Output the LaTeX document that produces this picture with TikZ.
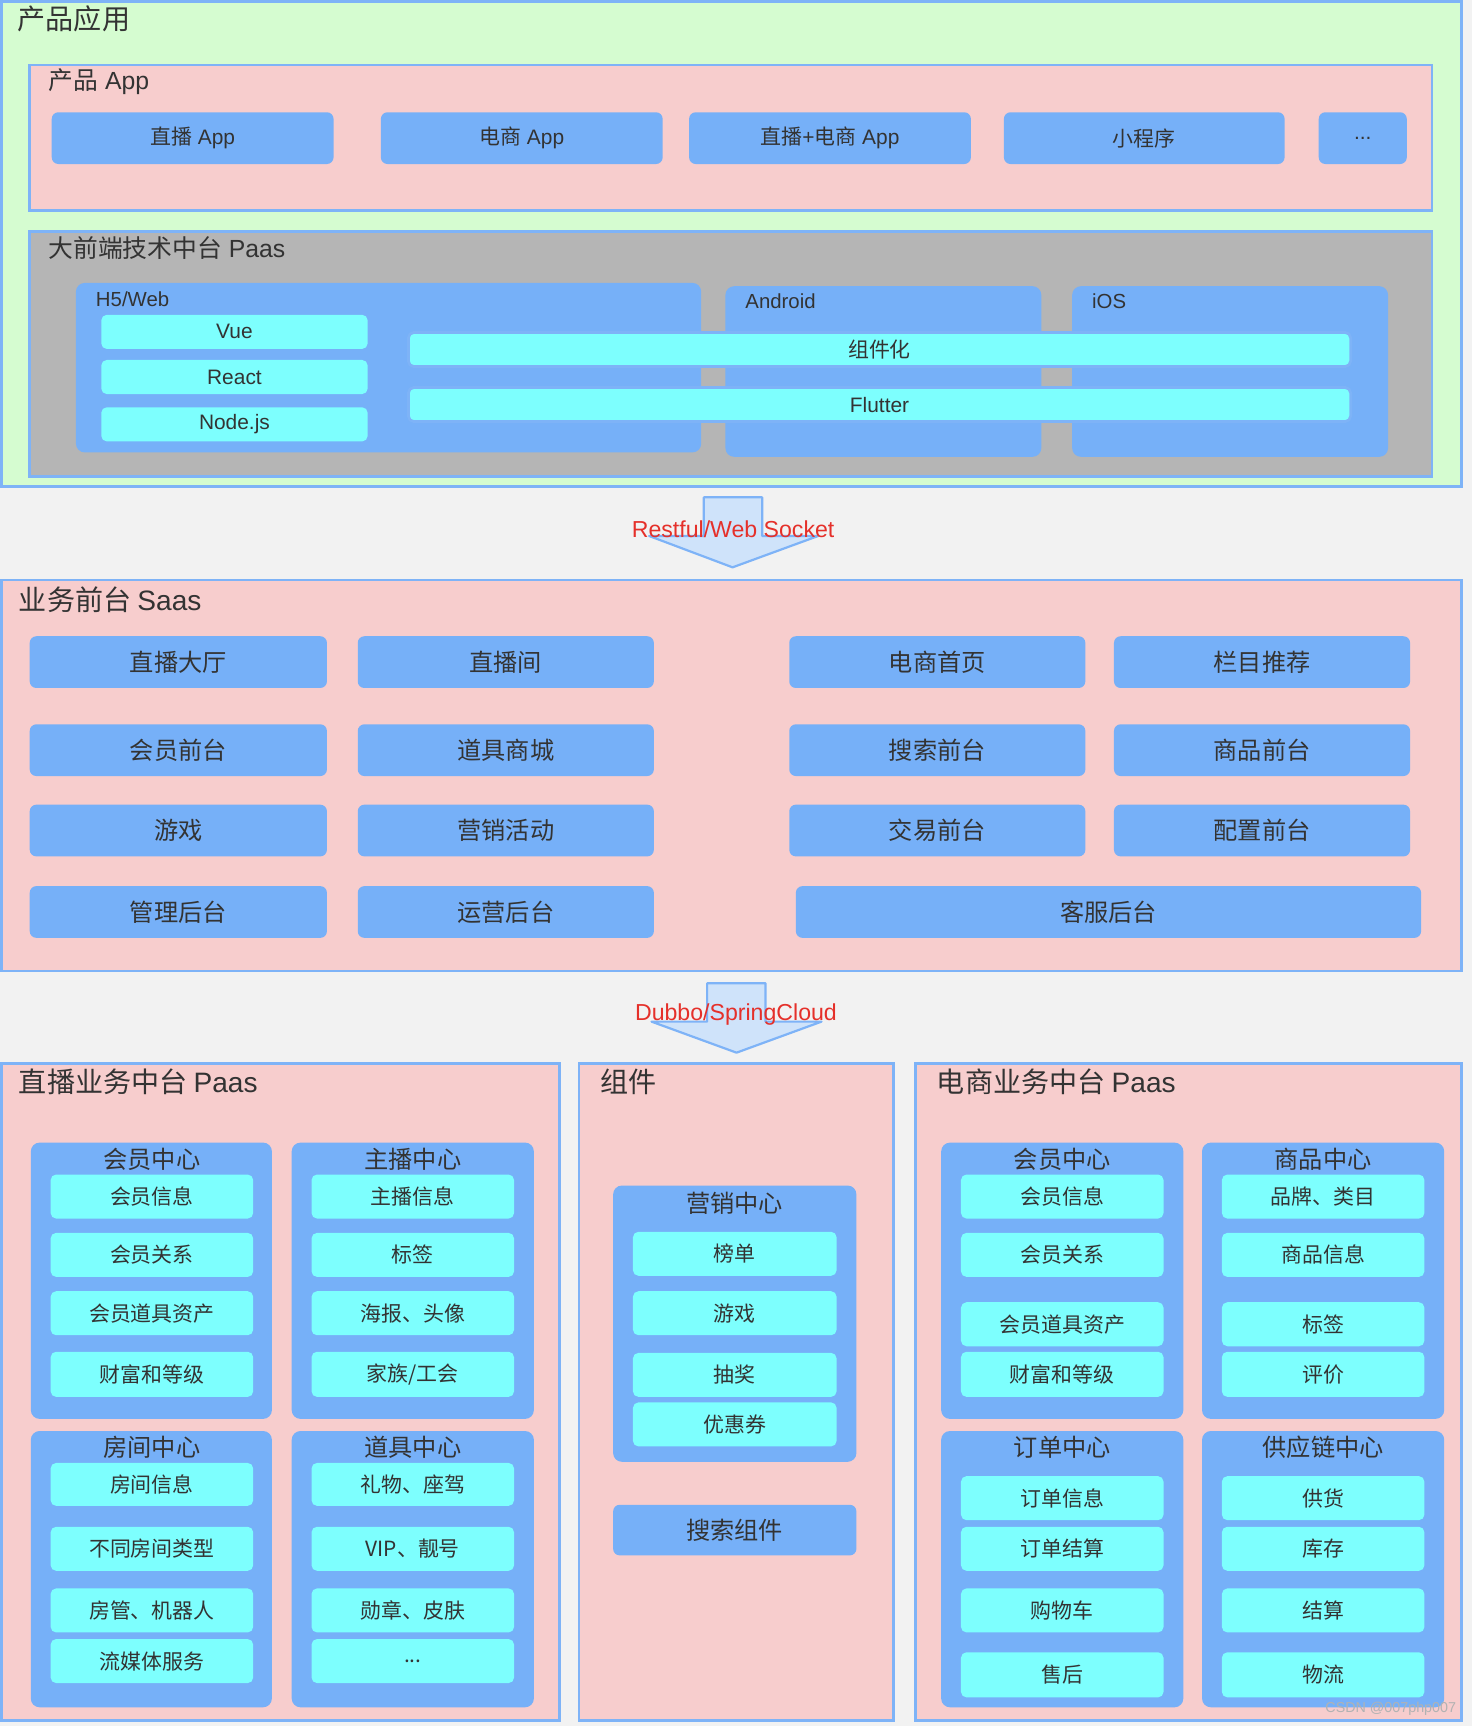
\documentclass[tikz,border=0pt]{standalone}
\usepackage{fontspec}
\setmainfont{Liberation Sans}
\newfontfamily\cjk{Noto Sans CJK SC}
\definecolor{bgc}{HTML}{F2F2F2}
\definecolor{greenc}{HTML}{D5FCD0}
\definecolor{pinkc}{HTML}{F7CDCD}
\definecolor{bordc}{HTML}{7EB3F7}
\definecolor{bluec}{HTML}{76B0F8}
\definecolor{cyanc}{HTML}{7DFFFE}
\definecolor{greyc}{HTML}{B5B5B5}
\definecolor{arrowc}{HTML}{CFE3FA}
\definecolor{redc}{HTML}{E5302A}
\definecolor{txtc}{HTML}{333333}
\newcommand\bx[7]{%
  \pgfmathsetmacro\bxcx{(#3+#5)/2}\pgfmathsetmacro\bxcy{(#4+#6)/2}%
  \pgfmathsetmacro\bxw{#5-#3}\pgfmathsetmacro\bxh{#6-#4}%
  \node[#2, minimum width=\bxw pt, minimum height=\bxh pt] (#1) at (\bxcx,\bxcy) {#7};}
\begin{document}
\begin{tikzpicture}[x=1pt,y=-1pt,
  sect/.style={draw=bordc, line width=2.5pt, inner sep=0pt},
  btn/.style={fill=bluec, rounded corners=6pt, inner sep=0pt, text=txtc, font=\fontsize{19}{22}\selectfont},
  bigbtn/.style={btn, font=\fontsize{22}{26}\selectfont\cjk},
  item/.style={fill=cyanc, rounded corners=5pt, inner sep=0pt, text=txtc, font=\fontsize{19}{22}\selectfont\cjk},
  bar/.style={item, draw=bordc, line width=2.5pt, font=\fontsize{19}{22}\selectfont},
  tech/.style={item, font=\fontsize{19}{22}\selectfont},
  grp/.style={fill=bluec, rounded corners=8pt, inner sep=0pt},
  ttl/.style={text=txtc, inner sep=0pt, anchor=west, font=\fontsize{25.5}{30}\selectfont\cjk},
  sttl/.style={text=txtc, inner sep=0pt, anchor=west, font=\fontsize{22.5}{26}\selectfont},
  gttl/.style={text=txtc, inner sep=0pt, font=\fontsize{18.5}{22}\selectfont},
  cttl/.style={text=txtc, inner sep=0pt, font=\fontsize{22}{26}\selectfont\cjk},
  blockarrow/.style={fill=arrowc, draw=bordc, line width=2pt, line join=round},
  lbl/.style={text=redc, inner sep=0pt, font=\fontsize{21}{25}\selectfont}
]
\useasboundingbox (0,0) rectangle (1337,1568);
\fill[bgc] (0,0) rectangle (1337,1568);

% ---------- 产品应用 ----------
\bx{prod}{sect, fill=greenc}{1.3}{1.3}{1328}{442}{}
\node[ttl] (prodt) at (16,17) {产品应用};
\bx{app}{sect, fill=pinkc}{27}{59}{1301}{191}{}
\node[sttl] (appt) at (44,74) {{\cjk 产品} App};
\bx{a1}{btn}{47}{102}{303}{149}{{\cjk 直播} App}
\bx{a2}{btn}{346}{102}{602}{149}{{\cjk 电商} App}
\bx{a3}{btn}{626}{102}{882}{149}{{\cjk 直播}+{\cjk 电商} App}
\bx{a4}{btn}{912}{102}{1167}{149}{\cjk 小程序}
\bx{a5}{btn}{1198}{102}{1278}{149}{...}

\bx{fe}{sect, fill=greyc}{27}{210}{1301}{433}{}
\node[sttl] (fet) at (44,225) {{\cjk 大前端技术中台} Paas};
\bx{h5}{grp}{69}{257}{637}{411}{}
\bx{andr}{grp}{659}{260}{946}{415}{}
\bx{ios}{grp}{974}{260}{1261}{415}{}
\node[gttl, anchor=west] (h5t) at (87,271.5) {H5/Web};
\node[gttl, anchor=west] (andrt) at (677,274) {Android};
\node[gttl, anchor=west] (iost) at (992,274) {iOS};
\bx{vue}{tech}{92}{286}{334}{317}{Vue}
\bx{react}{tech}{92}{327}{334}{358}{React}
\bx{node}{tech}{92}{370}{334}{401}{Node.js}
\bx{comp}{bar}{371}{302}{1227}{333}{\cjk 组件化}
\bx{flut}{bar}{371}{352}{1227}{383}{Flutter}

% ---------- arrow 1 ----------
\draw[blockarrow] (639.4,451.8) -- (692.4,451.8) -- (692.4,486.9) -- (743.3,486.9)
  -- (665.5,515.4) -- (589.7,486.9) -- (639.4,486.9) -- cycle;
\node[lbl] (l1) at (666,481) {Restful/Web Socket};

% ---------- 业务前台 Saas ----------
\bx{saas}{sect, fill=pinkc}{1.3}{527}{1328}{882}{}
\node[ttl] (saast) at (17,544.5) {{\cjk 业务前台} {\rmfamily Saas}};
\bx{s11}{bigbtn}{27}{578}{297}{625}{直播大厅}
\bx{s12}{bigbtn}{325}{578}{594}{625}{直播间}
\bx{s13}{bigbtn}{717}{578}{986}{625}{电商首页}
\bx{s14}{bigbtn}{1012}{578}{1281}{625}{栏目推荐}
\bx{s21}{bigbtn}{27}{658}{297}{705}{会员前台}
\bx{s22}{bigbtn}{325}{658}{594}{705}{道具商城}
\bx{s23}{bigbtn}{717}{658}{986}{705}{搜索前台}
\bx{s24}{bigbtn}{1012}{658}{1281}{705}{商品前台}
\bx{s31}{bigbtn}{27}{731}{297}{778}{游戏}
\bx{s32}{bigbtn}{325}{731}{594}{778}{营销活动}
\bx{s33}{bigbtn}{717}{731}{986}{778}{交易前台}
\bx{s34}{bigbtn}{1012}{731}{1281}{778}{配置前台}
\bx{s41}{bigbtn}{27}{805}{297}{852}{管理后台}
\bx{s42}{bigbtn}{325}{805}{594}{852}{运营后台}
\bx{s43}{bigbtn}{723}{805}{1291}{852}{客服后台}

% ---------- arrow 2 ----------
\draw[blockarrow] (642.4,893.3) -- (695.4,893.3) -- (695.4,928.1) -- (746.3,928.1)
  -- (669.1,956.3) -- (591.9,928.1) -- (642.4,928.1) -- cycle;
\node[lbl] (l2) at (668.6,922) {Dubbo/SpringCloud};

% ---------- 直播业务中台 Paas ----------
\bx{live}{sect, fill=pinkc}{1.3}{966}{508}{1563}{}
\node[ttl] (livet) at (17,982.5) {{直播业务中台} {\rmfamily Paas}};
\bx{lg1}{grp}{28}{1038}{247}{1289}{}
\bx{lg2}{grp}{265}{1038}{485}{1289}{}
\bx{lg3}{grp}{28}{1300}{247}{1551}{}
\bx{lg4}{grp}{265}{1300}{485}{1551}{}
\node[cttl] (lg1t) at (138,1053) {会员中心};
\node[cttl] (lg2t) at (375,1053) {主播中心};
\node[cttl] (lg3t) at (138,1315) {房间中心};
\node[cttl] (lg4t) at (375,1315) {道具中心};
\bx{l11}{item}{46}{1067}{230}{1107}{会员信息}
\bx{l12}{item}{46}{1120}{230}{1160}{会员关系}
\bx{l13}{item}{46}{1173}{230}{1213}{会员道具资产}
\bx{l14}{item}{46}{1228}{230}{1269}{财富和等级}
\bx{l21}{item}{283}{1067}{467}{1107}{主播信息}
\bx{l22}{item}{283}{1120}{467}{1160}{标签}
\bx{l23}{item}{283}{1173}{467}{1213}{海报、头像}
\bx{l24}{item}{283}{1228}{467}{1269}{家族/工会}
\bx{l31}{item}{46}{1329}{230}{1368}{房间信息}
\bx{l32}{item}{46}{1387}{230}{1427}{不同房间类型}
\bx{l33}{item}{46}{1443}{230}{1483}{房管、机器人}
\bx{l34}{item}{46}{1489}{230}{1529}{流媒体服务}
\bx{l41}{item}{283}{1329}{467}{1368}{礼物、座驾}
\bx{l42}{item}{283}{1387}{467}{1427}{VIP、靓号}
\bx{l43}{item}{283}{1443}{467}{1483}{勋章、皮肤}
\bx{l44}{item}{283}{1489}{467}{1529}{...}

% ---------- 组件 ----------
\bx{cmp}{sect, fill=pinkc}{526}{966}{812}{1563}{}
\node[ttl] (cmpt) at (545,983) {组件};
\bx{mg}{grp}{557}{1077}{778}{1328}{}
\node[cttl] (mgt) at (667.5,1093) {营销中心};
\bx{m1}{item}{575}{1119}{760}{1159}{榜单}
\bx{m2}{item}{575}{1173}{760}{1213}{游戏}
\bx{m3}{item}{575}{1229}{760}{1269}{抽奖}
\bx{m4}{item}{575}{1274}{760}{1314}{优惠券}
\bx{srch}{bigbtn}{557}{1367}{778}{1413}{搜索组件}

% ---------- 电商业务中台 Paas ----------
\bx{ecom}{sect, fill=pinkc}{832}{966}{1328}{1563}{}
\node[ttl] (ecomt) at (851,983) {{电商业务中台} {\rmfamily Paas}};
\bx{eg1}{grp}{855}{1038}{1075}{1289}{}
\bx{eg2}{grp}{1092}{1038}{1312}{1289}{}
\bx{eg3}{grp}{855}{1300}{1075}{1551}{}
\bx{eg4}{grp}{1092}{1300}{1312}{1551}{}
\node[cttl] (eg1t) at (965,1053) {会员中心};
\node[cttl] (eg2t) at (1202,1053) {商品中心};
\node[cttl] (eg3t) at (965,1315) {订单中心};
\node[cttl] (eg4t) at (1202,1315) {供应链中心};
\bx{e11}{item}{873}{1067}{1057}{1107}{会员信息}
\bx{e12}{item}{873}{1120}{1057}{1160}{会员关系}
\bx{e13}{item}{873}{1183}{1057}{1223}{会员道具资产}
\bx{e14}{item}{873}{1228}{1057}{1269}{财富和等级}
\bx{e21}{item}{1110}{1067}{1294}{1107}{品牌、类目}
\bx{e22}{item}{1110}{1120}{1294}{1160}{商品信息}
\bx{e23}{item}{1110}{1183}{1294}{1223}{标签}
\bx{e24}{item}{1110}{1228}{1294}{1269}{评价}
\bx{e31}{item}{873}{1341}{1057}{1381}{订单信息}
\bx{e32}{item}{873}{1387}{1057}{1427}{订单结算}
\bx{e33}{item}{873}{1443}{1057}{1483}{购物车}
\bx{e34}{item}{873}{1501}{1057}{1542}{售后}
\bx{e41}{item}{1110}{1341}{1294}{1381}{供货}
\bx{e42}{item}{1110}{1387}{1294}{1427}{库存}
\bx{e43}{item}{1110}{1443}{1294}{1483}{结算}
\bx{e44}{item}{1110}{1501}{1294}{1542}{物流}

\node[text=black!30, inner sep=0pt, anchor=east, font=\fontsize{13}{15}\selectfont] (wm) at (1323,1552) {CSDN @007php007};
\end{tikzpicture}
\end{document}
